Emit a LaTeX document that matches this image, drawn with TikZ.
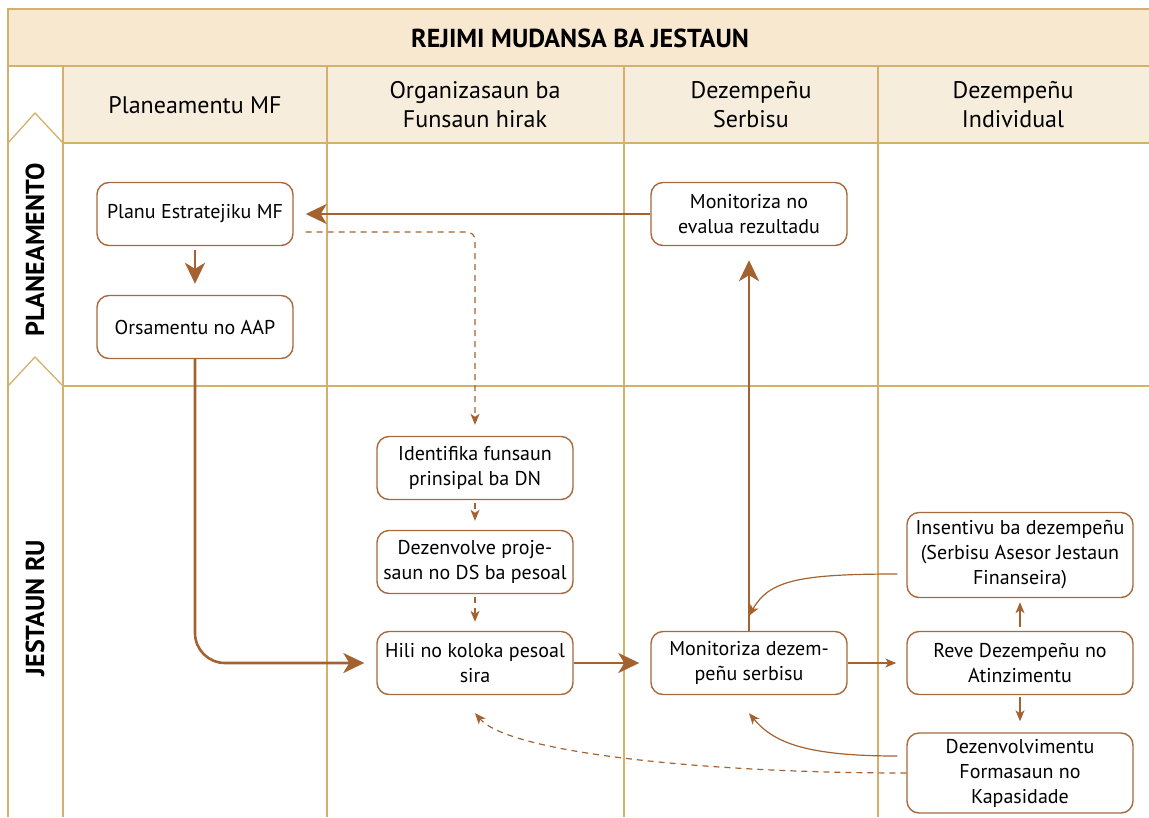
\documentclass[tikz,border=0pt]{standalone}
\usepackage{fontspec}
\setmainfont{PT Sans}
\usetikzlibrary{arrows.meta}
\definecolor{frameline}{HTML}{D5B06C}
\definecolor{titlefill}{HTML}{F8E8D0}
\definecolor{headfill}{HTML}{F6EDDD}
\definecolor{boxline}{HTML}{A8693C}
\definecolor{arrowcol}{HTML}{A3622F}

\begin{document}
\begin{tikzpicture}[x=1pt, y=-1pt,
  frame/.style={draw=frameline, line width=1.3pt},
  stepbox/.style={draw=boxline, line width=1.4pt, rounded corners=12pt, fill=white, minimum width=196pt, minimum height=63pt, align=center, inner sep=2pt, font=\fontsize{20}{25}\selectfont},
  widebox/.style={stepbox, minimum width=226pt},
  headtext/.style={align=center, font=\fontsize{24}{29}\selectfont},
  lanetext/.style={rotate=90, font=\fontsize{26}{30}\selectfont\bfseries},
  bigarrow/.style={draw=arrowcol, line width=2.6pt, -{Stealth[length=21pt,width=20pt,inset=6pt]}},
  thinarrow/.style={draw=arrowcol, line width=1.2pt, -{Stealth[length=11pt,width=9pt,inset=3pt]}},
  dasharrow/.style={thinarrow, dash pattern=on 6pt off 5pt}]
\useasboundingbox (0,0) rectangle (1149,817);
% frame of the lanes
\fill[titlefill] (8,9) rectangle (1149,66);
\fill[headfill] (63,66) rectangle (1149,143);
\draw[frame] (1149,9) -- (8,9) -- (8,817);
\draw[frame] (8,66) -- (1149,66);
\foreach \x in {63,327,624,878}
  \draw[frame] (\x,66) -- (\x,817);
\draw[frame] (63,143) -- (1149,143);
\draw[frame] (63,386) -- (1149,386);
\draw[frame] (8,143) -- (35,113) -- (63,143);
\draw[frame] (8,386) -- (35,357) -- (63,386);
% titles
\node[font=\fontsize{26}{30}\selectfont\bfseries] (Title) at (580,38) {REJIMI MUDANSA BA JESTAUN};
\node[headtext] (Hd1) at (195,105) {Planeamentu MF};
\node[headtext] (Hd2) at (475,105) {Organizasaun ba\\Funsaun hirak};
\node[headtext] (Hd3) at (751,105) {Dezempeñu\\Serbisu};
\node[headtext] (Hd4) at (1013,105) {Dezempeñu\\Individual};
\node[lanetext] (Ln1) at (35,250) {PLANEAMENTO};
\node[lanetext] (Ln2) at (35,608) {JESTAUN RU};
% steps
\node[stepbox] (PlN1) at (195,214) {Planu Estratejiku MF};
\node[stepbox] (PlN2) at (195,327) {Orsamentu no AAP};
\node[stepbox] (PlN3) at (749,214) {Monitoriza no\\evalua rezultadu};
\node[stepbox] (JeN1) at (475,468) {Identifika funsaun\\prinsipal ba DN};
\node[stepbox] (JeN2) at (475,562) {Dezenvolve proje-\\saun no DS ba pesoal};
\node[stepbox] (JeN3) at (475,663) {Hili no koloka pesoal\\sira};
\node[stepbox] (JeN4) at (749,663) {Monitoriza dezem-\\peñu serbisu};
\node[widebox, minimum height=85pt] (JeN5) at (1020,555) {Insentivu ba dezempeñu\\(Serbisu Asesor Jestaun\\Finanseira)};
\node[widebox] (JeN6) at (1020,663) {Reve Dezempeñu no\\Atinzimentu};
\node[widebox, minimum height=80pt] (JeN7) at (1020,773) {Dezenvolvimentu\\Formasaun no\\Kapasidade};
% main flow
\draw[bigarrow, shorten >=12pt] (PlN3.west) -- (PlN1.east);
\draw[bigarrow, shorten <=4pt, shorten >=11pt] (PlN1.south) -- (PlN2.north);
\draw[bigarrow, rounded corners=30pt, shorten >=12pt] (PlN2.south) |- (JeN3.west);
\draw[bigarrow, shorten >=11pt] (JeN3.east) -- (JeN4.west);
\draw[bigarrow, shorten >=14pt] (JeN4.north) -- (PlN3.south);
% dashed flow
\draw[dasharrow, rounded corners=8pt, shorten >=11pt] ([xshift=12pt,yshift=-18pt]PlN1.east) -| (JeN1.north);
\draw[dasharrow, shorten <=3pt, shorten >=9pt] (JeN1.south) -- (JeN2.north);
\draw[dasharrow, shorten <=3pt, shorten >=9pt] (JeN2.south) -- (JeN3.north);
\draw[dasharrow] (JeN7.west) .. controls +(-200,0) and +(35,40) .. ([yshift=-18pt]JeN3.south);
% individual lane
\draw[thinarrow, shorten >=10pt] (JeN4.east) -- (JeN6.west);
\draw[thinarrow, shorten <=4pt, shorten >=4pt] (JeN6.north) -- (JeN5.south);
\draw[thinarrow, shorten <=2pt, shorten >=11pt] (JeN6.south) -- (JeN7.north);
\draw[thinarrow] ([xshift=-9pt,yshift=-19pt]JeN5.west) .. controls +(-100,0) and +(20,-35) .. ([yshift=15pt]JeN4.north);
\draw[thinarrow] ([xshift=-9pt,yshift=17pt]JeN7.west) .. controls +(-90,0) and +(25,30) .. ([yshift=-18pt]JeN4.south);
\end{tikzpicture}
\end{document}
